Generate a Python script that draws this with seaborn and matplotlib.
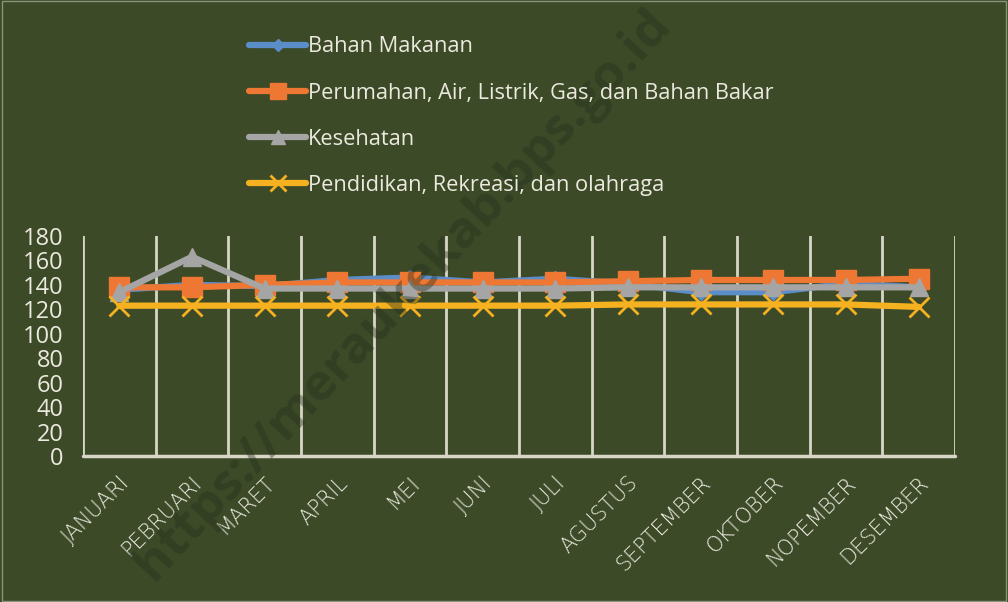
import pandas as pd
import matplotlib.pyplot as plt
import seaborn as sns
from matplotlib.lines import Line2D

months = ["JANUARI", "PEBRUARI", "MARET", "APRIL", "MEI", "JUNI", "JULI",
          "AGUSTUS", "SEPTEMBER", "OKTOBER", "NOPEMBER", "DESEMBER"]
bahan_makanan = [136, 140, 139, 144, 146, 142, 145, 141, 134, 134, 141, 138]
perumahan = [138, 138, 140, 142, 142, 142, 142, 143, 144, 144, 144, 145]
kesehatan = [134, 163, 137, 137, 137, 137, 137, 138, 138, 138, 138, 138]
pendidikan = [123, 123, 123, 123, 123, 123, 123, 124, 124, 124, 124, 122]

series_names = ["Bahan Makanan",
                "Perumahan, Air, Listrik, Gas, dan Bahan Bakar",
                "Kesehatan",
                "Pendidikan, Rekreasi, dan olahraga"]
series_values = [bahan_makanan, perumahan, kesehatan, pendidikan]
colors = ["#5B8DC9", "#EE7733", "#A5A5A5", "#F5B120"]
markers = ["D", "s", "^", "x"]
msizes = [8, 14, 13, 14]

bg = "#3C4A28"
fg = "#ECEADF"
grid = "#D8D6C6"

df = pd.DataFrame({
    "month": months * 4,
    "pos": list(range(12)) * 4,
    "value": sum(series_values, []),
    "series": sum([[n] * 12 for n in series_names], []),
})

sns.set_style("white")
plt.rcParams["font.family"] = ["Open Sans", "DejaVu Sans"]

fig = plt.figure(figsize=(10.08, 6.02), dpi=100, facecolor=bg)
ax = fig.add_axes([0.0823, 0.2425, 0.865, 0.3655])
ax.set_facecolor(bg)

for name, c, m, ms in zip(series_names, colors, markers, msizes):
    sub = df[df["series"] == name]
    sns.lineplot(data=sub, x="pos", y="value", ax=ax, color=c, linewidth=4.5,
                 marker=m, markersize=ms, markeredgecolor=c,
                 markeredgewidth=2 if m == "x" else 1, legend=False)

ax.set_xlim(-0.5, 11.5)
ax.set_ylim(0, 180)
ax.set_yticks(range(0, 181, 20))
for xv in [i - 0.5 for i in range(13)]:
    ax.axvline(xv, color=grid, linewidth=2, zorder=0)
ax.axhline(0, color=grid, linewidth=2.5, zorder=0, clip_on=False)
for s in ax.spines.values():
    s.set_visible(False)

ax.set_xticks(range(12))
ax.set_xticklabels(months, rotation=45, ha="right", rotation_mode="anchor",
                   fontsize=15, color=fg, family=["DejaVu Sans"],
                   fontweight=200)
ax.tick_params(axis="x", length=0, pad=12)
ax.tick_params(axis="y", length=0, pad=14, labelsize=17, labelcolor=fg)
ax.set_xlabel("")
ax.set_ylabel("")

handles = [Line2D([], [], color=c, linewidth=4.5, marker=m, markersize=ms * 0.8,
                  markeredgecolor=c, markeredgewidth=2 if m == "x" else 1)
           for c, m, ms in zip(colors, markers, msizes)]
leg = fig.legend(handles, series_names, loc="upper left",
                 bbox_to_anchor=(0.228, 0.972), frameon=False, fontsize=15.7,
                 labelcolor=fg, handlelength=2.6, handletextpad=0.1,
                 labelspacing=1.15)

# faint watermark
fig.text(0.4, 0.51, "https://meraukekab.bps.go.id", rotation=47,
         fontsize=37, fontweight="bold", color="#27301a", alpha=0.4,
         ha="center", va="center", zorder=0)

fig.patches.append(plt.Rectangle((0.002, 0.002), 0.996, 0.996,
                                 transform=fig.transFigure, fill=False,
                                 edgecolor="#8a9478", linewidth=1))

fig.savefig("out.png", dpi=100, facecolor=bg)
